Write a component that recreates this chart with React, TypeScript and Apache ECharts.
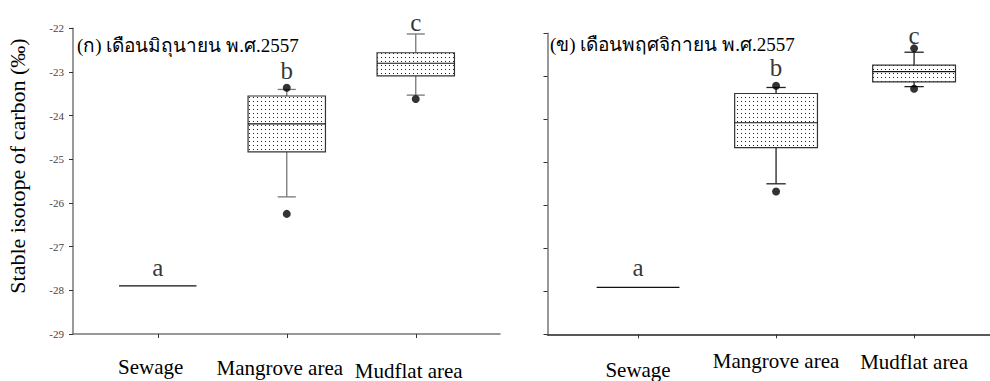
import React, { useEffect, useRef } from "react";
import * as echarts from "echarts";

const categories = ["Sewage", "Mangrove area", "Mudflat area"];
const panelTitles = ["(ก) เดือนมิถุนายน พ.ศ.2557", "(ข) เดือนพฤศจิกายน พ.ศ.2557"];
const yAxisName = "Stable isotope of carbon (‰)";
const groupLetters = ["a", "b", "c"];

// [low whisker, Q1, median, Q3, high whisker] per category
const juneBoxes = [
  [-27.9, -27.9, -27.9, -27.9, -27.9],
  [-25.86, -24.83, -24.19, -23.55, -23.4],
  [-23.53, -23.09, -22.8, -22.56, -22.13],
];
const juneOutliers = [
  [2, -23.36],
  [2, -26.25],
  [3, -23.62],
];
const juneLetterY = [-27.72, -23.21, -22.11];

const novBoxes = [
  [-27.91, -27.91, -27.91, -27.91, -27.91],
  [-25.5, -24.66, -24.08, -23.4, -23.26],
  [-23.24, -23.13, -22.89, -22.74, -22.44],
];
const novOutliers = [
  [2, -23.22],
  [2, -25.68],
  [3, -22.35],
  [3, -23.29],
];
const novLetterY = [-27.71, -23.04, -22.3];

const SERIF = "'Liberation Serif', 'Times New Roman', serif";

export default function App() {
  const ref = useRef<HTMLDivElement>(null);
  useEffect(() => {
    document.body.style.margin = "0";
    if (!ref.current) return;
    const chart = echarts.init(ref.current, null, { renderer: "svg" });

    const cv = document.createElement("canvas");
    cv.width = 4;
    cv.height = 4;
    const ctx = cv.getContext("2d")!;
    ctx.fillStyle = "#ffffff";
    ctx.fillRect(0, 0, 4, 4);
    ctx.fillStyle = "#222222";
    ctx.fillRect(1, 1, 1, 1);
    const pattern: any = { image: cv, repeat: "repeat", imageWidth: 4, imageHeight: 4 };

    const makeRender = (whiskerColor: string) => (params: any, api: any) => {
      const x = api.value(0);
      const low = api.value(1);
      const q1 = api.value(2);
      const med = api.value(3);
      const q3 = api.value(4);
      const high = api.value(5);
      const w = api.size([0.6, 0])[0];
      const capW = api.size([0.14, 0])[0];
      const pLow = api.coord([x, low]);
      const pQ1 = api.coord([x, q1]);
      const pMed = api.coord([x, med]);
      const pQ3 = api.coord([x, q3]);
      const pHigh = api.coord([x, high]);
      const cx = pMed[0];
      const children: any[] = [];
      if (high > q3) {
        children.push({
          type: "line",
          shape: { x1: cx, y1: pQ3[1], x2: cx, y2: pHigh[1] },
          style: { stroke: whiskerColor, lineWidth: 1.3 },
        });
        children.push({
          type: "line",
          shape: { x1: cx - capW / 2, y1: pHigh[1], x2: cx + capW / 2, y2: pHigh[1] },
          style: { stroke: whiskerColor, lineWidth: 1.3 },
        });
      }
      if (low < q1) {
        children.push({
          type: "line",
          shape: { x1: cx, y1: pQ1[1], x2: cx, y2: pLow[1] },
          style: { stroke: whiskerColor, lineWidth: 1.3 },
        });
        children.push({
          type: "line",
          shape: { x1: cx - capW / 2, y1: pLow[1], x2: cx + capW / 2, y2: pLow[1] },
          style: { stroke: whiskerColor, lineWidth: 1.3 },
        });
      }
      if (q3 > q1) {
        children.push({
          type: "rect",
          shape: { x: cx - w / 2, y: pQ3[1], width: w, height: pQ1[1] - pQ3[1] },
          style: { fill: pattern, stroke: "#333", lineWidth: 1.2 },
        });
      }
      children.push({
        type: "line",
        shape: { x1: cx - w / 2, y1: pMed[1], x2: cx + w / 2, y2: pMed[1] },
        style: { stroke: "#111", lineWidth: 1.2 },
      });
      return { type: "group", children };
    };

    const boxData = (boxes: number[][]) => boxes.map((b, i) => [i + 1, ...b]);
    const letterData = (ys: number[]) => ys.map((y, i) => ({ value: [i + 1, y], name: groupLetters[i] }));

    const labelRich = (padTops: number[], padRight: number) => {
      const rich: any = {};
      padTops.forEach((p, i) => {
        rich["c" + i] = {
          fontFamily: SERIF,
          fontSize: 21,
          color: "#000",
          padding: [p, padRight, 0, 0],
        };
      });
      return rich;
    };

    const xAxisBase = (
      gridIndex: number,
      min: number,
      max: number,
      lineColor: string,
      padTops: number[],
      padRight: number
    ) => ({
      type: "value",
      gridIndex,
      min,
      max,
      axisLine: { show: true, lineStyle: { color: lineColor, width: 1.5 } },
      axisTick: { show: true, customValues: [1, 2, 3], length: 4, lineStyle: { color: "#333" } },
      axisLabel: {
        show: true,
        customValues: [1, 2, 3],
        margin: 14,
        formatter: (v: number) => {
          const i = Math.round(v) - 1;
          return categories[i] ? "{c" + i + "|" + categories[i] + "}" : "";
        },
        rich: labelRich(padTops, padRight),
      },
      splitLine: { show: false },
    });

    const yAxisBase = (gridIndex: number, showLabels: boolean) => ({
      type: "value",
      gridIndex,
      min: -29,
      max: -22,
      interval: 1,
      axisLine: { show: true, lineStyle: { color: "#777", width: 1.5 } },
      axisTick: { show: true, length: 4, lineStyle: { color: "#333" } },
      axisLabel: {
        show: showLabels,
        margin: 9,
        fontFamily: SERIF,
        fontSize: 11,
        color: "#444",
      },
      splitLine: { show: false },
    });

    const letterSeries = (idx: number, ys: number[]) => ({
      type: "scatter",
      xAxisIndex: idx,
      yAxisIndex: idx,
      symbolSize: 0,
      silent: true,
      data: letterData(ys),
      label: {
        show: true,
        position: "top",
        distance: 0,
        formatter: (p: any) => p.name,
        fontFamily: SERIF,
        fontSize: 25,
        lineHeight: 22,
        color: "#000",
      },
    });

    const titleStyle = { fontFamily: SERIF, fontSize: 19, fontWeight: "normal", color: "#000" };

    const option: any = {
      animation: false,
      backgroundColor: "#fff",
      title: [
        { text: panelTitles[0], left: 77, top: 36, padding: 0, textStyle: titleStyle },
        { text: panelTitles[1], left: 550, top: 35, padding: 0, textStyle: titleStyle },
      ],
      graphic: [
        {
          type: "text",
          x: 17,
          y: 166,
          rotation: Math.PI / 2,
          style: {
            text: yAxisName,
            fontFamily: SERIF,
            fontSize: 22,
            fill: "#000",
            align: "center",
            verticalAlign: "middle",
          },
        },
      ],
      grid: [
        { left: 73, top: 28.3, width: 427, height: 306, containLabel: false },
        { left: 547.5, top: 33.3, width: 442.5, height: 301, containLabel: false },
      ],
      xAxis: [
        xAxisBase(0, 0.343, 3.653, "#777", [8, 9, 12], 14),
        xAxisBase(1, 0.344, 3.55, "#222", [11, 2, 3], 0),
      ],
      yAxis: [yAxisBase(0, true), yAxisBase(1, false)],
      series: [
        {
          type: "custom",
          xAxisIndex: 0,
          yAxisIndex: 0,
          renderItem: makeRender("#777"),
          encode: { x: 0, y: [1, 2, 3, 4, 5] },
          data: boxData(juneBoxes),
        },
        {
          type: "custom",
          xAxisIndex: 1,
          yAxisIndex: 1,
          renderItem: makeRender("#222"),
          encode: { x: 0, y: [1, 2, 3, 4, 5] },
          data: boxData(novBoxes),
        },
        {
          type: "scatter",
          xAxisIndex: 0,
          yAxisIndex: 0,
          symbol: "circle",
          symbolSize: 8,
          itemStyle: { color: "#000" },
          data: juneOutliers,
        },
        {
          type: "scatter",
          xAxisIndex: 1,
          yAxisIndex: 1,
          symbol: "circle",
          symbolSize: 8,
          itemStyle: { color: "#000" },
          data: novOutliers,
        },
        letterSeries(0, juneLetterY),
        letterSeries(1, novLetterY),
      ],
    };
    chart.setOption(option);
    return () => chart.dispose();
  }, []);
  return <div ref={ref} style={{ width: 990, height: 381 }} />;
}
